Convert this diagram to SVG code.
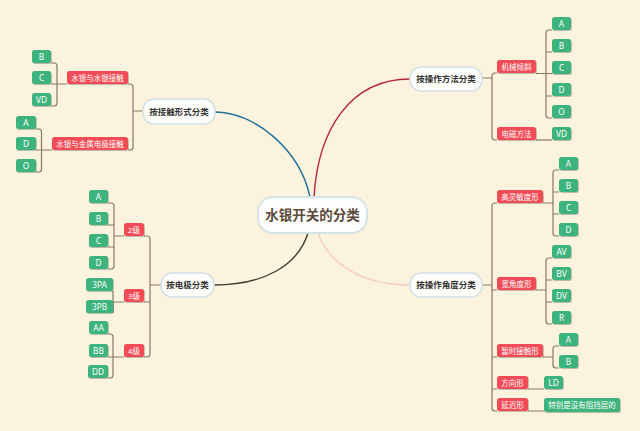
<svg xmlns="http://www.w3.org/2000/svg" width="640" height="431" viewBox="0 0 640 431">
<defs>
<filter id="sh" x="-20%" y="-30%" width="140%" height="160%"><feDropShadow dx="0.7" dy="0.8" stdDeviation="0.4" flood-color="#000" flood-opacity="0.3"/></filter>
<style>
.bg{fill:#FBF3DD}
.leaf rect{fill:#3EB47D;filter:url(#sh)}
.sub rect{fill:#F04B56;filter:url(#sh)}
.leaf text,.sub text{fill:#fff;font-family:"Noto Sans","Noto Sans CJK SC",sans-serif;font-size:7.5px;text-anchor:middle}
.leaf text.l{font-size:8.3px}
.topic rect{fill:#FDFDF9;stroke:#D3E0E6;stroke-width:1.5}
.topic text{fill:#333;font-family:"Noto Sans CJK SC",sans-serif;font-size:8.5px;font-weight:bold;text-anchor:middle}
.center rect{fill:#FDFEFB;stroke:#D4E3E7;stroke-width:2}
.center text{fill:#5C4A3B;font-family:"Noto Sans CJK SC",sans-serif;font-size:13.5px;font-weight:bold;text-anchor:middle}
.tree{fill:none;stroke:#857A68;stroke-width:1.2}
.curve{fill:none;stroke-width:1.4}
</style>
</defs>
<rect class="bg" x="0" y="0" width="640" height="431"/>

<g id="connectors">
<path class="curve" stroke="#1F6F97" d="M215,112 C255,112 300,150 310,197"/>
<path class="curve" stroke="#B52535" d="M314,197 C318,130 350,79 410,79"/>
<path class="curve" stroke="#3F3D33" d="M308,233 C298,265 265,285 214,285"/>
<path class="curve" stroke="#F6CDBE" d="M318,233 C328,262 360,285 410,285"/>

<path class="tree" d="M143,111 H133 M128,84 H130 Q133,84 133,87 V147 Q133,150 130,150 H128"/>
<path class="tree" d="M51,63 H54 Q57,63 57,66 V103 Q57,106 54,106 H51 M51,84 H67"/>
<path class="tree" d="M36,129 H39 Q41.5,129 41.5,132 V169 Q41.5,172 39,172 H36 M36,150 H52"/>

<path class="tree" d="M161,285 H150 M144,236 H147 Q150,236 150,239 V354 Q150,357 147,357 H144 M144,302 H150"/>
<path class="tree" d="M108,203 H111 Q114,203 114,206 V266 Q114,269 111,269 H108 M108,225 H114 M108,247 H114 M114,236 H124"/>
<path class="tree" d="M113,291 V313 M113,302 H124"/>
<path class="tree" d="M108,334 H110 Q113,334 113,337 V375 Q113,378 110,378 H108 M108,357 H124"/>

<path class="tree" d="M482,78 H492 M497,73 H495 Q492,73 492,76 V137 Q492,140 495,140 H497"/>
<path class="tree" d="M552,30 H549 Q546,30 546,33 V115 Q546,118 549,118 H552 M546,52 H552 M546,96 H552 M536,73.5 H552"/>
<path class="tree" d="M536,140 H552"/>

<path class="tree" d="M482,285 H492 M497,203 H495 Q492,203 492,206 V408 Q492,411 495,411 H497 M492,290 H497 M492,357 H497 M492,389 H497"/>
<path class="tree" d="M559,170 H556 Q553,170 553,173 V233 Q553,236 556,236 H559 M553,192 H559 M553,214 H559 M543,203 H553"/>
<path class="tree" d="M552,258 H549 Q546,258 546,261 V321 Q546,324 549,324 H552 M546,280 H552 M546,302 H552 M536,290 H546"/>
<path class="tree" d="M559,346 H556 Q553,346 553,349 V365 Q553,368 556,368 H559 M543,357 H553"/>
<path class="tree" d="M528,389 H544 M528,411 H544"/>
</g>

<g id="center" class="center"><rect x="258" y="197" width="109" height="36" rx="15"/><text x="312.5" y="220">水银开关的分类</text></g>

<g id="t-contact" class="topic"><rect x="143" y="99" width="72" height="25" rx="11"/><text x="179" y="114.5">按接触形式分类</text></g>
<g id="t-electrode" class="topic"><rect x="161" y="273" width="53" height="24" rx="11"/><text x="187.5" y="288">按电极分类</text></g>
<g id="t-method" class="topic"><rect x="410" y="67" width="72" height="24" rx="11"/><text x="446" y="82">按操作方法分类</text></g>
<g id="t-angle" class="topic"><rect x="410" y="273" width="72" height="24" rx="11"/><text x="446" y="288">按操作角度分类</text></g>

<g id="s-hg-hg" class="sub"><rect x="67" y="71" width="61" height="13" rx="2.5"/><text x="97.5" y="80.5">水银与水银接触</text></g>
<g id="s-hg-metal" class="sub"><rect x="52" y="137" width="76" height="13" rx="2.5"/><text x="90" y="146.5">水银与金属电极接触</text></g>
<g id="l1-B" class="leaf"><rect x="32" y="50" width="19" height="13" rx="2.5"/><text class="l" x="41.5" y="59.8">B</text></g>
<g id="l1-C" class="leaf"><rect x="32" y="71" width="19" height="13" rx="2.5"/><text class="l" x="41.5" y="80.8">C</text></g>
<g id="l1-VD" class="leaf"><rect x="32" y="93" width="19" height="13" rx="2.5"/><text class="l" x="41.5" y="102.8">VD</text></g>
<g id="l2-A" class="leaf"><rect x="16" y="116" width="20" height="13" rx="2.5"/><text class="l" x="26" y="125.8">A</text></g>
<g id="l2-D" class="leaf"><rect x="16" y="137" width="20" height="13" rx="2.5"/><text class="l" x="26" y="146.8">D</text></g>
<g id="l2-O" class="leaf"><rect x="16" y="159" width="20" height="13" rx="2.5"/><text class="l" x="26" y="168.8">O</text></g>

<g id="s-2" class="sub"><rect x="124" y="223" width="20" height="13" rx="2.5"/><text x="134" y="232.5">2级</text></g>
<g id="s-3" class="sub"><rect x="124" y="289" width="20" height="13" rx="2.5"/><text x="134" y="298.5">3级</text></g>
<g id="s-4" class="sub"><rect x="124" y="344" width="20" height="13" rx="2.5"/><text x="134" y="353.5">4级</text></g>
<g id="l3-A" class="leaf"><rect x="89" y="190" width="19" height="13" rx="2.5"/><text class="l" x="98.5" y="199.8">A</text></g>
<g id="l3-B" class="leaf"><rect x="89" y="212" width="19" height="13" rx="2.5"/><text class="l" x="98.5" y="221.8">B</text></g>
<g id="l3-C" class="leaf"><rect x="89" y="234" width="19" height="13" rx="2.5"/><text class="l" x="98.5" y="243.8">C</text></g>
<g id="l3-D" class="leaf"><rect x="89" y="256" width="19" height="13" rx="2.5"/><text class="l" x="98.5" y="265.8">D</text></g>
<g id="l4-3PA" class="leaf"><rect x="86" y="278" width="27" height="13" rx="2.5"/><text class="l" x="99.5" y="287.8">3PA</text></g>
<g id="l4-3PB" class="leaf"><rect x="86" y="300" width="27" height="13" rx="2.5"/><text class="l" x="99.5" y="309.8">3PB</text></g>
<g id="l5-AA" class="leaf"><rect x="89" y="321" width="19" height="13" rx="2.5"/><text class="l" x="98.5" y="330.8">AA</text></g>
<g id="l5-BB" class="leaf"><rect x="89" y="344" width="19" height="13" rx="2.5"/><text class="l" x="98.5" y="353.8">BB</text></g>
<g id="l5-DD" class="leaf"><rect x="88" y="365" width="20" height="13" rx="2.5"/><text class="l" x="98" y="374.8">DD</text></g>

<g id="s-mech" class="sub"><rect x="497" y="60" width="39" height="13" rx="2.5"/><text x="516.5" y="69.5">机械倾斜</text></g>
<g id="s-em" class="sub"><rect x="497" y="127" width="39" height="13" rx="2.5"/><text x="516.5" y="136.5">电磁方法</text></g>
<g id="l6-A" class="leaf"><rect x="552" y="17" width="19" height="13" rx="2.5"/><text class="l" x="561.5" y="26.8">A</text></g>
<g id="l6-B" class="leaf"><rect x="552" y="39" width="19" height="13" rx="2.5"/><text class="l" x="561.5" y="48.8">B</text></g>
<g id="l6-C" class="leaf"><rect x="552" y="61" width="19" height="13" rx="2.5"/><text class="l" x="561.5" y="70.8">C</text></g>
<g id="l6-D" class="leaf"><rect x="552" y="83" width="19" height="13" rx="2.5"/><text class="l" x="561.5" y="92.8">D</text></g>
<g id="l6-O" class="leaf"><rect x="552" y="105" width="19" height="13" rx="2.5"/><text class="l" x="561.5" y="114.8">O</text></g>
<g id="l7-VD" class="leaf"><rect x="552" y="127" width="19" height="13" rx="2.5"/><text class="l" x="561.5" y="136.8">VD</text></g>

<g id="s-sens" class="sub"><rect x="497" y="190" width="46" height="13" rx="2.5"/><text x="520" y="199.5">高灵敏度形</text></g>
<g id="l8-A" class="leaf"><rect x="559" y="157" width="19" height="13" rx="2.5"/><text class="l" x="568.5" y="166.8">A</text></g>
<g id="l8-B" class="leaf"><rect x="559" y="179" width="19" height="13" rx="2.5"/><text class="l" x="568.5" y="188.8">B</text></g>
<g id="l8-C" class="leaf"><rect x="559" y="201" width="19" height="13" rx="2.5"/><text class="l" x="568.5" y="210.8">C</text></g>
<g id="l8-D" class="leaf"><rect x="559" y="223" width="19" height="13" rx="2.5"/><text class="l" x="568.5" y="232.8">D</text></g>
<g id="s-wide" class="sub"><rect x="497" y="277" width="39" height="13" rx="2.5"/><text x="516.5" y="286.5">宽角度形</text></g>
<g id="l9-AV" class="leaf"><rect x="552" y="245" width="19" height="13" rx="2.5"/><text class="l" x="561.5" y="254.8">AV</text></g>
<g id="l9-BV" class="leaf"><rect x="552" y="267" width="19" height="13" rx="2.5"/><text class="l" x="561.5" y="276.8">BV</text></g>
<g id="l9-DV" class="leaf"><rect x="552" y="289" width="19" height="13" rx="2.5"/><text class="l" x="561.5" y="298.8">DV</text></g>
<g id="l9-R" class="leaf"><rect x="552" y="311" width="19" height="13" rx="2.5"/><text class="l" x="561.5" y="320.8">R</text></g>
<g id="s-temp" class="sub"><rect x="497" y="344" width="46" height="13" rx="2.5"/><text x="520" y="353.5">暂时接触形</text></g>
<g id="l10-A" class="leaf"><rect x="559" y="333" width="19" height="13" rx="2.5"/><text class="l" x="568.5" y="342.8">A</text></g>
<g id="l10-B" class="leaf"><rect x="559" y="355" width="19" height="13" rx="2.5"/><text class="l" x="568.5" y="364.8">B</text></g>
<g id="s-dir" class="sub"><rect x="497" y="376" width="31" height="13" rx="2.5"/><text x="512.5" y="385.5">方向形</text></g>
<g id="l11-LD" class="leaf"><rect x="544" y="376" width="19" height="13" rx="2.5"/><text class="l" x="553.5" y="385.8">LD</text></g>
<g id="s-delay" class="sub"><rect x="497" y="398" width="31" height="13" rx="2.5"/><text x="512.5" y="407.5">延迟形</text></g>
<g id="l12-note" class="leaf"><rect x="544" y="398" width="76" height="14" rx="2.5"/><text x="582" y="408">特别是没有阻挡层的</text></g>
</svg>
